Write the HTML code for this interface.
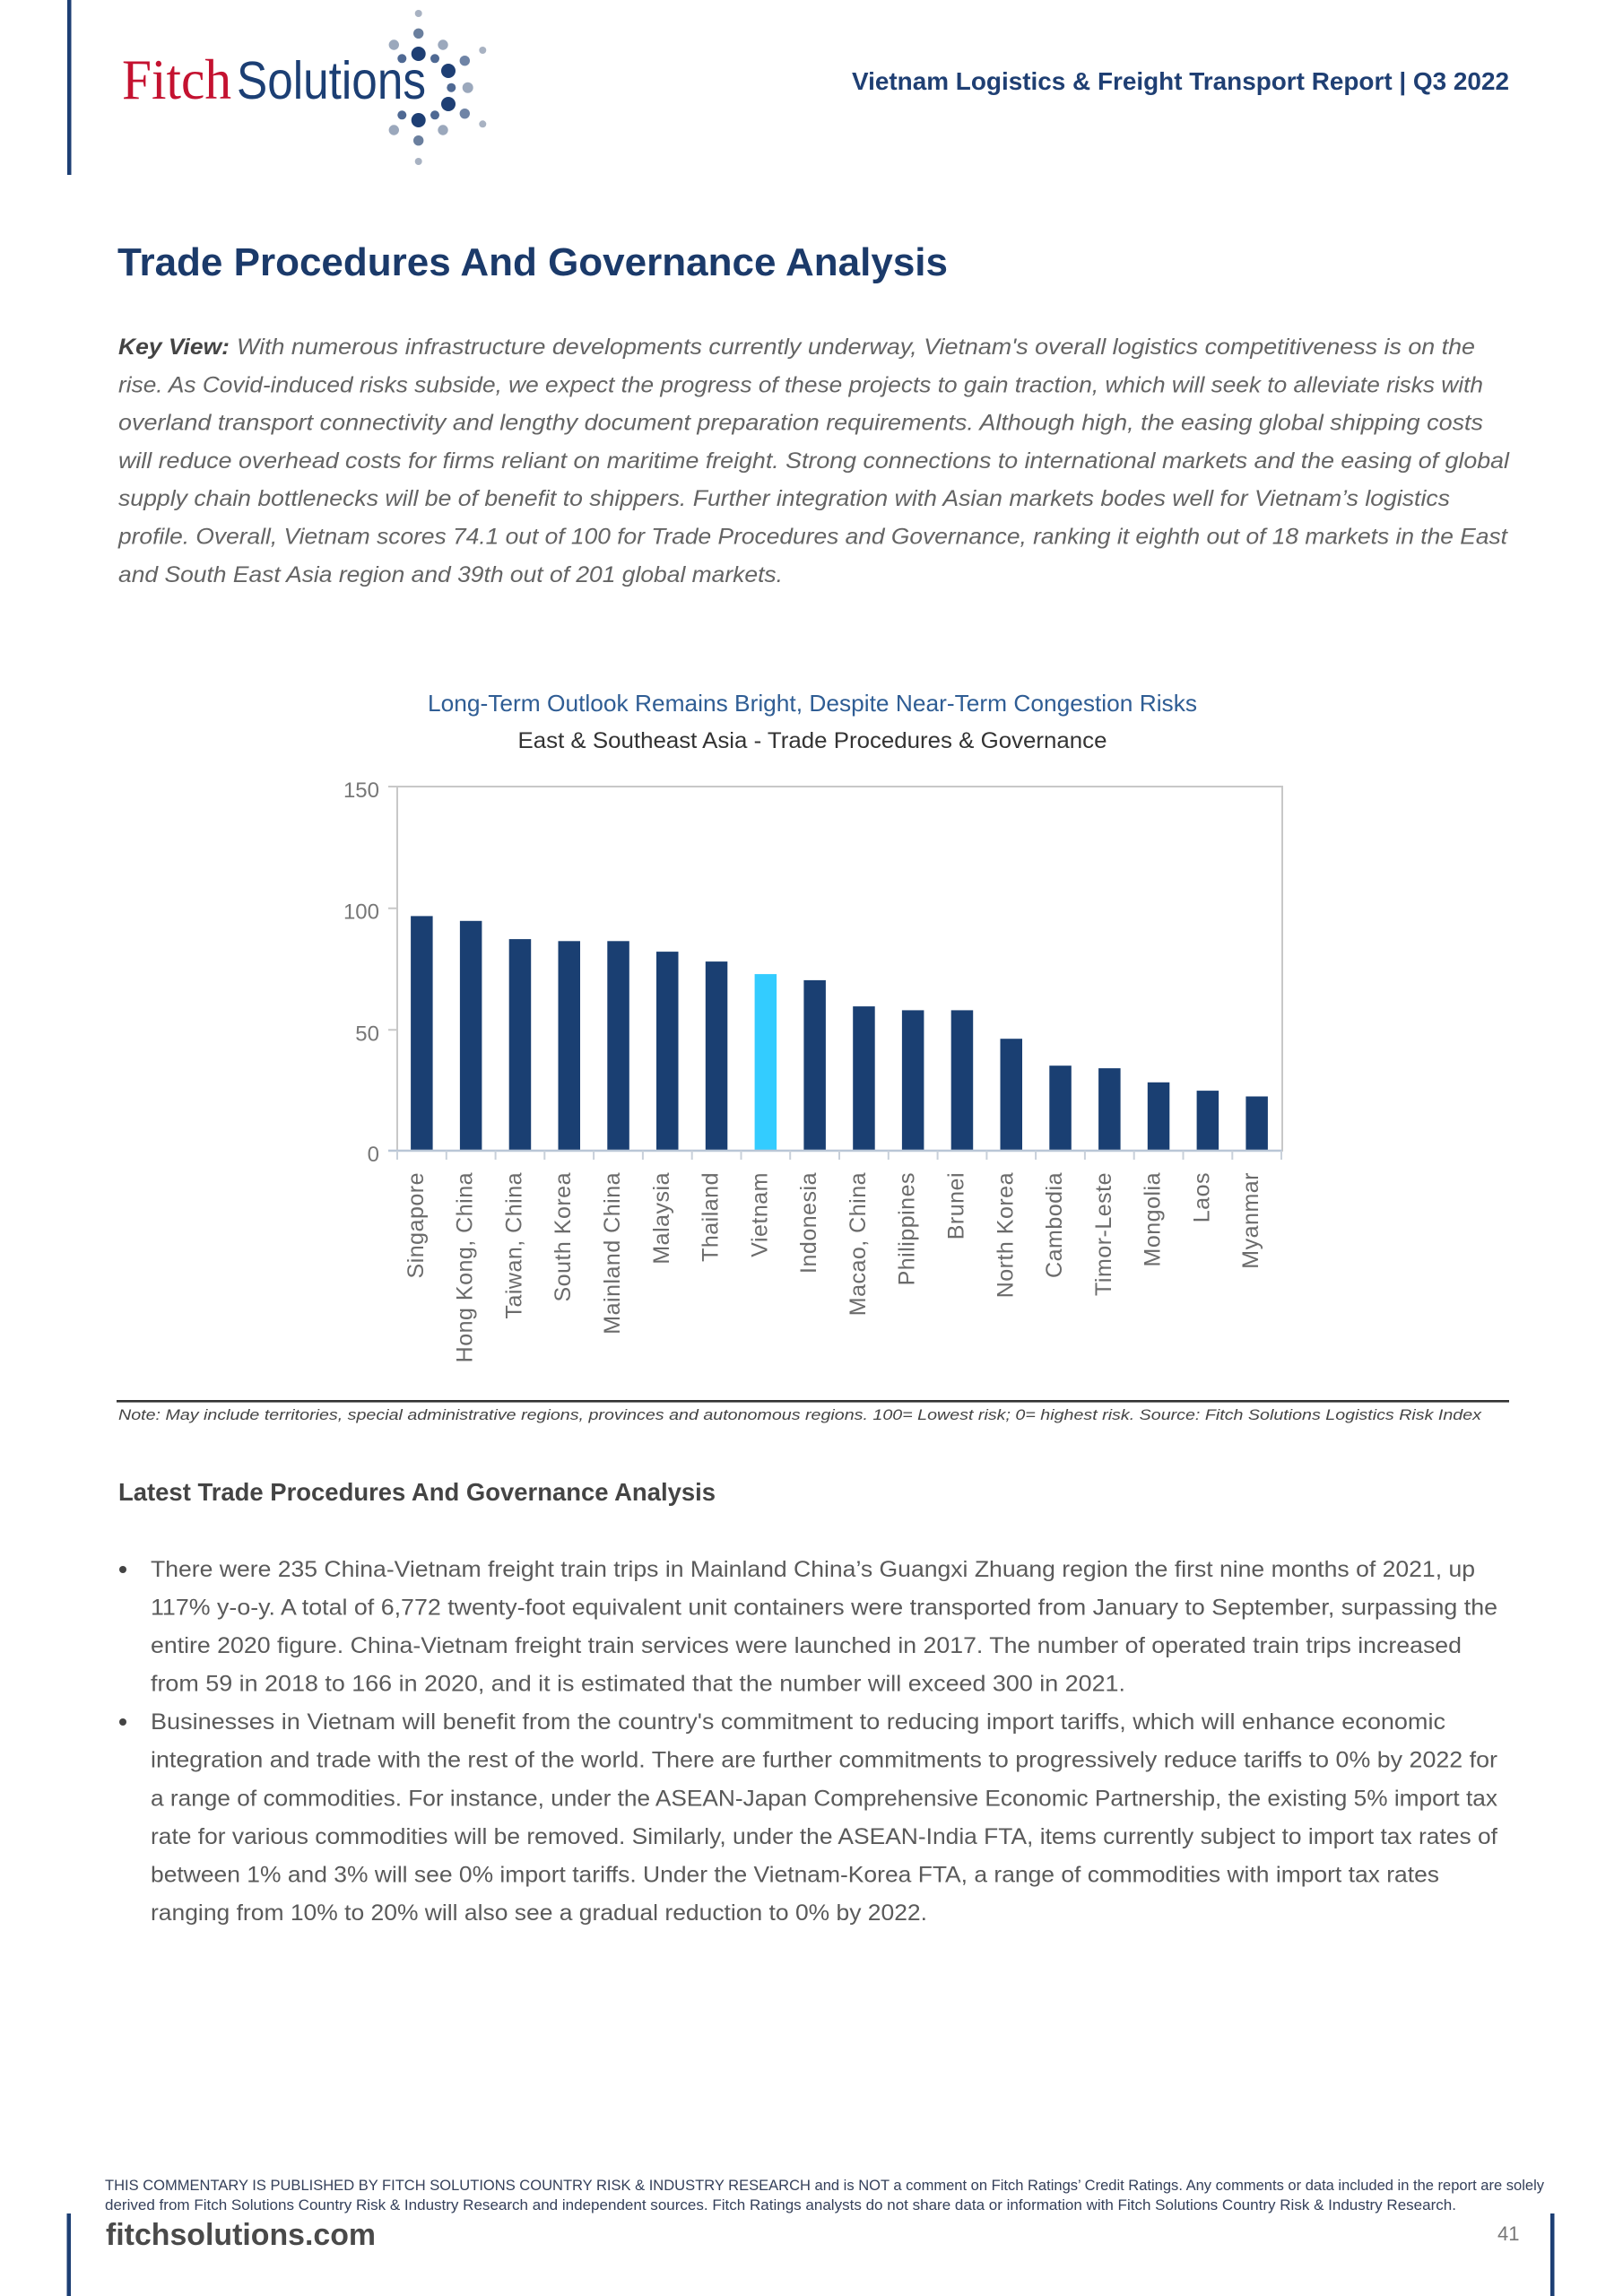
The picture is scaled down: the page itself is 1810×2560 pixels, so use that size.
<!DOCTYPE html>
<html>
<head>
<meta charset="utf-8">
<style>
html,body{margin:0;padding:0;background:#fff;}
svg{display:block;}
text{font-family:"Liberation Sans",sans-serif;}
</style>
</head>
<body>
<svg width="1810" height="2560" viewBox="0 0 1810 2560" xmlns="http://www.w3.org/2000/svg">
<rect width="1810" height="2560" fill="#fff"/>

<!-- Header left bar -->
<rect x="75" y="0" width="4.5" height="195" fill="#1d3f74"/>

<!-- Logo -->
<text x="136" y="110" style="font-family:'Liberation Serif',serif" font-size="64" fill="#c41230" textLength="122" lengthAdjust="spacingAndGlyphs">Fitch</text>
<text x="264" y="110" font-size="59" fill="#1c3f74" textLength="211" lengthAdjust="spacingAndGlyphs">Solutions</text>
<g>
<circle cx="466.7" cy="15" r="4" fill="#a8b2c2"/>
<circle cx="466.7" cy="37.3" r="5.7" fill="#6a7f9e"/>
<circle cx="439.3" cy="50" r="5.7" fill="#9ba8bc"/>
<circle cx="494" cy="50" r="5.7" fill="#9ba8bc"/>
<circle cx="538.3" cy="56" r="4" fill="#a8b2c2"/>
<circle cx="466.7" cy="60" r="8" fill="#1e3f74"/>
<circle cx="448.3" cy="65.3" r="5" fill="#4f6993"/>
<circle cx="485" cy="65.3" r="5" fill="#4f6993"/>
<circle cx="518.3" cy="67.7" r="5.7" fill="#6f84a6"/>
<circle cx="500" cy="79" r="8" fill="#1e3f74"/>
<circle cx="503.3" cy="97.7" r="5" fill="#4f6993"/>
<circle cx="521.7" cy="97.7" r="6" fill="#9ba8bc"/>
<circle cx="500" cy="116" r="8" fill="#1e3f74"/>
<circle cx="518.3" cy="126.7" r="5.7" fill="#6f84a6"/>
<circle cx="448.3" cy="128.3" r="5" fill="#4f6993"/>
<circle cx="485" cy="128.3" r="5" fill="#4f6993"/>
<circle cx="466.7" cy="134" r="8" fill="#1e3f74"/>
<circle cx="439.3" cy="145" r="5.7" fill="#9ba8bc"/>
<circle cx="494" cy="145" r="5.7" fill="#9ba8bc"/>
<circle cx="538.3" cy="138.3" r="4" fill="#a8b2c2"/>
<circle cx="466.7" cy="156.7" r="5.7" fill="#6a7f9e"/>
<circle cx="466.7" cy="180" r="4" fill="#a8b2c2"/>
</g>

<!-- Header right -->
<text x="950" y="100" font-size="28" font-weight="bold" fill="#1f3f73" textLength="733" lengthAdjust="spacingAndGlyphs">Vietnam Logistics &amp; Freight Transport Report | Q3 2022</text>

<!-- Title -->
<text x="131" y="307" font-size="44" font-weight="bold" fill="#1b3a6a" textLength="926" lengthAdjust="spacingAndGlyphs">Trade Procedures And Governance Analysis</text>

<!-- Key View paragraph -->
<g font-size="25" font-style="italic" fill="#646464">
<text x="132" y="395" font-weight="bold" fill="#444" textLength="124" lengthAdjust="spacingAndGlyphs">Key View:</text>
<text x="264" y="395" textLength="1381" lengthAdjust="spacingAndGlyphs">With numerous infrastructure developments currently underway, Vietnam's overall logistics competitiveness is on the</text>
<text x="132" y="437.3" textLength="1522" lengthAdjust="spacingAndGlyphs">rise. As Covid-induced risks subside, we expect the progress of these projects to gain traction, which will seek to alleviate risks with</text>
<text x="132" y="479.6" textLength="1522" lengthAdjust="spacingAndGlyphs">overland transport connectivity and lengthy document preparation requirements. Although high, the easing global shipping costs</text>
<text x="132" y="521.9" textLength="1551" lengthAdjust="spacingAndGlyphs">will reduce overhead costs for firms reliant on maritime freight. Strong connections to international markets and the easing of global</text>
<text x="132" y="564.2" textLength="1485" lengthAdjust="spacingAndGlyphs">supply chain bottlenecks will be of benefit to shippers. Further integration with Asian markets bodes well for Vietnam’s logistics</text>
<text x="132" y="606.5" textLength="1549" lengthAdjust="spacingAndGlyphs">profile. Overall, Vietnam scores 74.1 out of 100 for Trade Procedures and Governance, ranking it eighth out of 18 markets in the East</text>
<text x="132" y="648.8" textLength="741" lengthAdjust="spacingAndGlyphs">and South East Asia region and 39th out of 201 global markets.</text>
</g>

<!-- Chart titles -->
<text x="906" y="793" font-size="26" fill="#2f5d94" text-anchor="middle" textLength="858" lengthAdjust="spacingAndGlyphs">Long-Term Outlook Remains Bright, Despite Near-Term Congestion Risks</text>
<text x="906" y="834" font-size="25" fill="#333" text-anchor="middle" textLength="657" lengthAdjust="spacingAndGlyphs">East &amp; Southeast Asia - Trade Procedures &amp; Governance</text>

<!-- Plot frame -->
<rect x="443" y="877" width="987" height="406" fill="none" stroke="#c8c8c8" stroke-width="2"/>
<path d="M433 877H443M433 1012.7H443M433 1148.3H443" stroke="#c8c8c8" stroke-width="2" fill="none"/>
<g font-size="24" fill="#777" text-anchor="end">
<text x="423" y="889">150</text>
<text x="423" y="1024.7">100</text>
<text x="423" y="1160.3">50</text>
<text x="423" y="1295">0</text>
</g>

<!-- Bars -->
<g fill="#1a3f72">
<rect x="458.1" y="1021.4" width="24.5" height="261.6"/>
<rect x="512.9" y="1026.8" width="24.5" height="256.2"/>
<rect x="567.7" y="1047.1" width="24.5" height="235.9"/>
<rect x="622.5" y="1049.3" width="24.5" height="233.7"/>
<rect x="677.3" y="1049.3" width="24.5" height="233.7"/>
<rect x="732.0" y="1061.1" width="24.5" height="221.9"/>
<rect x="786.8" y="1072.1" width="24.5" height="210.9"/>
<rect x="841.6" y="1086.1" width="24.5" height="196.9" fill="#33ccff"/>
<rect x="896.4" y="1092.9" width="24.5" height="190.1"/>
<rect x="951.2" y="1122.1" width="24.5" height="160.9"/>
<rect x="1005.9" y="1126.4" width="24.5" height="156.6"/>
<rect x="1060.7" y="1126.4" width="24.5" height="156.6"/>
<rect x="1115.5" y="1158.2" width="24.5" height="124.8"/>
<rect x="1170.3" y="1188.2" width="24.5" height="94.8"/>
<rect x="1225.1" y="1191.1" width="24.5" height="91.9"/>
<rect x="1279.8" y="1206.8" width="24.5" height="76.2"/>
<rect x="1334.6" y="1216.1" width="24.5" height="66.9"/>
<rect x="1389.4" y="1222.5" width="24.5" height="60.5"/>
</g>

<!-- x axis -->
<path d="M433 1283H1430" stroke="#b9c6d6" stroke-width="2.5" fill="none"/>
<path d="M443 1283v10M497.8 1283v10M552.6 1283v10M607.3 1283v10M662.1 1283v10M716.9 1283v10M771.7 1283v10M826.5 1283v10M881.2 1283v10M936 1283v10M990.8 1283v10M1045.6 1283v10M1100.4 1283v10M1155.1 1283v10M1209.9 1283v10M1264.7 1283v10M1319.5 1283v10M1374.3 1283v10M1429 1283v10" stroke="#c8d0da" stroke-width="2" fill="none"/>

<!-- x labels -->
<g font-size="25" fill="#6b6b6b" text-anchor="end" letter-spacing="0.5">
<text transform="translate(471.9,1307) rotate(-90)">Singapore</text>
<text transform="translate(526.7,1307) rotate(-90)">Hong Kong, China</text>
<text transform="translate(581.5,1307) rotate(-90)">Taiwan, China</text>
<text transform="translate(636.2,1307) rotate(-90)">South Korea</text>
<text transform="translate(691.0,1307) rotate(-90)">Mainland China</text>
<text transform="translate(745.8,1307) rotate(-90)">Malaysia</text>
<text transform="translate(800.6,1307) rotate(-90)">Thailand</text>
<text transform="translate(855.4,1307) rotate(-90)">Vietnam</text>
<text transform="translate(910.1,1307) rotate(-90)">Indonesia</text>
<text transform="translate(964.9,1307) rotate(-90)">Macao, China</text>
<text transform="translate(1019.7,1307) rotate(-90)">Philippines</text>
<text transform="translate(1074.5,1307) rotate(-90)">Brunei</text>
<text transform="translate(1129.3,1307) rotate(-90)">North Korea</text>
<text transform="translate(1184.0,1307) rotate(-90)">Cambodia</text>
<text transform="translate(1238.8,1307) rotate(-90)">Timor-Leste</text>
<text transform="translate(1293.6,1307) rotate(-90)">Mongolia</text>
<text transform="translate(1348.4,1307) rotate(-90)">Laos</text>
<text transform="translate(1403.2,1307) rotate(-90)">Myanmar</text>
</g>

<!-- Note rule and text -->
<rect x="130" y="1561" width="1553" height="2.6" fill="#333"/>
<text x="132" y="1583" font-size="17" font-style="italic" fill="#444" textLength="1520" lengthAdjust="spacingAndGlyphs">Note: May include territories, special administrative regions, provinces and autonomous regions. 100= Lowest risk; 0= highest risk. Source: Fitch Solutions Logistics Risk Index</text>

<!-- Section heading -->
<text x="132" y="1673" font-size="28" font-weight="bold" fill="#444" textLength="666" lengthAdjust="spacingAndGlyphs">Latest Trade Procedures And Governance Analysis</text>

<!-- Bullets -->
<circle cx="137" cy="1750" r="4" fill="#444"/>
<circle cx="137" cy="1920" r="4" fill="#444"/>
<g font-size="25" fill="#5a5a5a">
<text x="168" y="1758" textLength="1477" lengthAdjust="spacingAndGlyphs">There were 235 China-Vietnam freight train trips in Mainland China’s Guangxi Zhuang region the first nine months of 2021, up</text>
<text x="168" y="1800.5" textLength="1502" lengthAdjust="spacingAndGlyphs">117% y-o-y. A total of 6,772 twenty-foot equivalent unit containers were transported from January to September, surpassing the</text>
<text x="168" y="1843" textLength="1462" lengthAdjust="spacingAndGlyphs">entire 2020 figure. China-Vietnam freight train services were launched in 2017. The number of operated train trips increased</text>
<text x="168" y="1885.6" textLength="1087" lengthAdjust="spacingAndGlyphs">from 59 in 2018 to 166 in 2020, and it is estimated that the number will exceed 300 in 2021.</text>
<text x="168" y="1928" textLength="1444" lengthAdjust="spacingAndGlyphs">Businesses in Vietnam will benefit from the country's commitment to reducing import tariffs, which will enhance economic</text>
<text x="168" y="1970.7" textLength="1502" lengthAdjust="spacingAndGlyphs">integration and trade with the rest of the world. There are further commitments to progressively reduce tariffs to 0% by 2022 for</text>
<text x="168" y="2013.3" textLength="1502" lengthAdjust="spacingAndGlyphs">a range of commodities. For instance, under the ASEAN-Japan Comprehensive Economic Partnership, the existing 5% import tax</text>
<text x="168" y="2055.8" textLength="1502" lengthAdjust="spacingAndGlyphs">rate for various commodities will be removed. Similarly, under the ASEAN-India FTA, items currently subject to import tax rates of</text>
<text x="168" y="2098.4" textLength="1437" lengthAdjust="spacingAndGlyphs">between 1% and 3% will see 0% import tariffs. Under the Vietnam-Korea FTA, a range of commodities with import tax rates</text>
<text x="168" y="2141" textLength="866" lengthAdjust="spacingAndGlyphs">ranging from 10% to 20% will also see a gradual reduction to 0% by 2022.</text>
</g>

<!-- Footer -->
<g font-size="17" fill="#34405a">
<text x="117" y="2442" textLength="1605" lengthAdjust="spacingAndGlyphs">THIS COMMENTARY IS PUBLISHED BY FITCH SOLUTIONS COUNTRY RISK &amp; INDUSTRY RESEARCH and is NOT a comment on Fitch Ratings’ Credit Ratings. Any comments or data included in the report are solely</text>
<text x="117" y="2464" textLength="1507" lengthAdjust="spacingAndGlyphs">derived from Fitch Solutions Country Risk &amp; Industry Research and independent sources. Fitch Ratings analysts do not share data or information with Fitch Solutions Country Risk &amp; Industry Research.</text>
</g>
<rect x="74.5" y="2468" width="4.5" height="92" fill="#1d3f74"/>
<rect x="1729" y="2468" width="4.5" height="92" fill="#1d3f74"/>
<text x="118" y="2503" font-size="34" font-weight="bold" fill="#4a4a4a" textLength="301" lengthAdjust="spacingAndGlyphs">fitchsolutions.com</text>
<text x="1670" y="2498" font-size="22" fill="#777">41</text>
</svg>
</body>
</html>
